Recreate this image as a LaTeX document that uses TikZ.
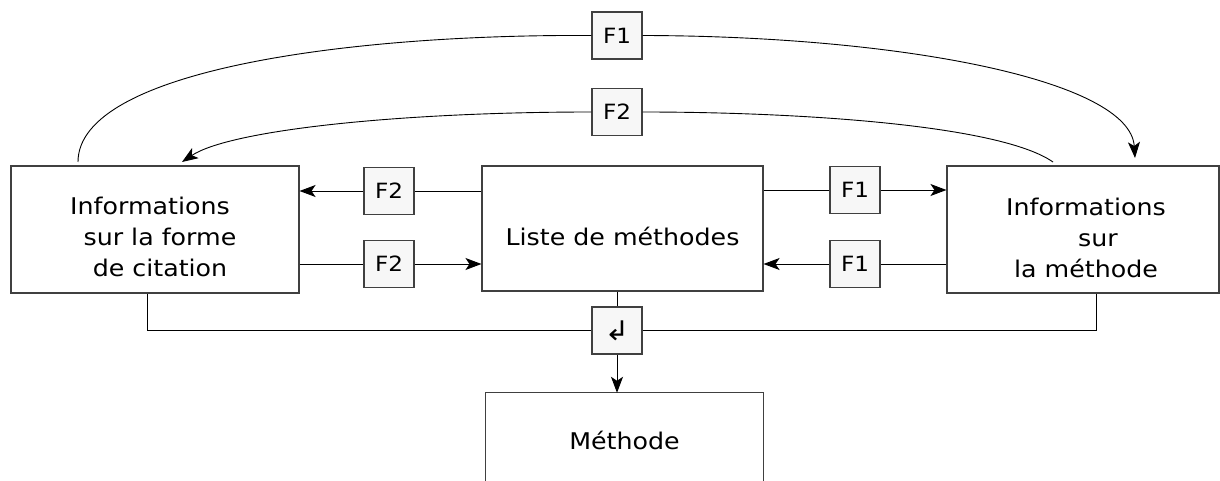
\documentclass[tikz,border=0pt]{standalone}
\usepackage{fontspec}
\setmainfont{DejaVu Sans}[FakeStretch=1.1]
\usetikzlibrary{arrows.meta}
\begin{document}
\begin{tikzpicture}[x=1pt,y=-1pt,
  bigbox/.style={draw=black!75, line width=1.1pt, fill=white, inner sep=0pt},
  bigtxt/.style={align=center, inner sep=0pt, font=\fontsize{23}{31}\selectfont},
  smallbox/.style={draw=black!75, line width=1.1pt, fill=black!3, minimum width=50pt, minimum height=47pt, inner sep=0pt, font=\fontsize{21}{24}\selectfont},
  conn/.style={line width=0.9pt, black},
  arr/.style={conn, -{Stealth[length=16pt,width=12pt,inset=4pt]}},
]
\useasboundingbox (0,0) rectangle (1220,481);
% big boxes
\node[bigbox, minimum width=288pt, minimum height=127pt] (left) at (155,229.5) {};
\node[bigtxt] (lefttxt) at (155,237) {Informations\hspace*{10pt}\\\hspace*{10pt}sur la forme\\\hspace*{10pt}de citation};
\node[bigbox, minimum width=281pt, minimum height=125pt] (mid) at (622.5,228.5) {};
\node[bigtxt] (midtxt) at (622.5,236) {Liste de méthodes};
\node[bigbox, minimum width=272pt, minimum height=127pt] (right) at (1083,229.5) {};
\node[bigtxt] (righttxt) at (1086,238) {Informations\\\hspace*{24pt}sur\\la méthode};
\node[inner sep=0pt, minimum width=277pt, minimum height=88pt] (meth) at (624.5,437) {};
\draw[draw=black!75, line width=1.1pt] (meth.south west) -- (meth.north west) -- (meth.north east) -- (meth.south east);
\node[bigtxt] (methtxt) at (624.5,440) {Méthode};
% small boxes
\node[smallbox] (f1t) at (617,35.5) {F1};
\node[smallbox] (f2t) at (617,112) {F2};
\node[smallbox] (f2u) at (389,191) {F2};
\node[smallbox] (f2l) at (389,264) {F2};
\node[smallbox] (f1u) at (855,190) {F1};
\node[smallbox] (f1l) at (855,264) {F1};
\node[smallbox, font=\fontsize{27}{30}\selectfont] (ret) at (617,330.5) {↲};
% horizontal connectors
\draw[conn] (mid.west |- f2u) -- (f2u.east);
\draw[arr] (f2u.west) -- (left.east |- f2u);
\draw[conn] (left.east |- f2l) -- (f2l.west);
\draw[arr] (f2l.east) -- (mid.west |- f2l);
\draw[conn] (mid.east |- f1u) -- (f1u.west);
\draw[arr] (f1u.east) -- (right.west |- f1u);
\draw[conn] (right.west |- f1l) -- (f1l.east);
\draw[arr] (f1l.west) -- (mid.east |- f1l);
% bottom connectors
\draw[conn] ([xshift=-8pt]left.south) |- (ret.west);
\draw[conn] ([xshift=13pt]right.south) |- (ret.east);
\draw[conn] (mid.south -| ret) -- (ret.north);
\draw[arr] (ret.south) -- (meth.north -| ret);
% curves
\coordinate (c1s) at (78,162);
\coordinate (c1e) at (1135,158);
\coordinate (c2s) at (1053,162);
\coordinate (c2e) at (182,162);
\draw[conn] (c1s) .. controls (78,70) and (350,34) .. (f1t.west);
\draw[arr] (f1t.east) .. controls (900,36) and (1130,80) .. (c1e);
\draw[conn] (c2s) .. controls (1000,125) and (800,112) .. (f2t.east);
\draw[arr] (f2t.west) .. controls (400,112) and (230,130) .. (c2e);
\end{tikzpicture}
\end{document}
